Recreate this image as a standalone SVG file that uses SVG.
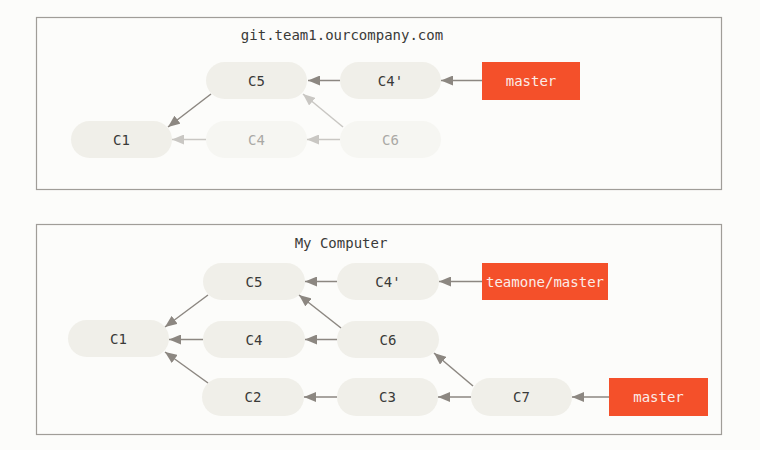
<svg xmlns="http://www.w3.org/2000/svg" width="760" height="450" viewBox="0 0 760 450">
<defs>
<marker id="ah" markerUnits="userSpaceOnUse" markerWidth="12" markerHeight="10" viewBox="0 0 12 10" refX="12" refY="5" orient="auto"><path d="M0,0 L12,5 L0,10 Z" fill="#8c8781"/></marker>
<marker id="ahf" markerUnits="userSpaceOnUse" markerWidth="12" markerHeight="10" viewBox="0 0 12 10" refX="12" refY="5" orient="auto"><path d="M0,0 L12,5 L0,10 Z" fill="#c9c7c3"/></marker>
</defs>
<style>
.box{fill:#fcfcfa;stroke:#a09d98;stroke-width:1.2}
.n rect{fill:#f0efe9}
.f rect{fill:#f6f6f2}
text{font-family:"DejaVu Sans Mono","Liberation Mono",monospace;font-size:14px;text-anchor:middle;dominant-baseline:central}
.n text{fill:#3a3a38}
.f text{fill:#aaa9a5}
.r rect{fill:#f4502a}
.r text{fill:#fbece8}
.t{fill:#3a3a38}
.c line{stroke:#8c8781;stroke-width:1.5;marker-end:url(#ah)}
.c line.fd{stroke:#c9c7c3;marker-end:url(#ahf)}
</style>
<rect width="760" height="450" fill="#fcfcfa"/>
<rect class="box" x="36.5" y="17.5" width="685" height="172"/>
<rect class="box" x="36.5" y="224.5" width="685" height="210"/>
<text class="t" x="342" y="35">git.team1.ourcompany.com</text>
<text class="t" x="341" y="243">My Computer</text>

<g id="top-C1" class="n"><rect x="71" y="121" width="101" height="37" rx="18.5"/><text x="121.5" y="139.5">C1</text></g>
<g id="top-C5" class="n"><rect x="206" y="62" width="101" height="37" rx="18.5"/><text x="256.5" y="80.5">C5</text></g>
<g id="top-C4p" class="n"><rect x="340" y="62" width="101" height="37" rx="18.5"/><text x="390.5" y="80.5">C4'</text></g>
<g id="top-C4" class="f"><rect x="206" y="121" width="101" height="37" rx="18.5"/><text x="256.5" y="139.5">C4</text></g>
<g id="top-C6" class="f"><rect x="340" y="121" width="101" height="37" rx="18.5"/><text x="390.5" y="139.5">C6</text></g>
<g id="top-master" class="r"><rect x="482" y="62" width="98" height="38"/><text x="531" y="81">master</text></g>

<g id="bot-C1" class="n"><rect x="68" y="320" width="101" height="37" rx="18.5"/><text x="118.5" y="338.5">C1</text></g>
<g id="bot-C5" class="n"><rect x="203" y="263" width="102" height="37" rx="18.5"/><text x="254" y="281.5">C5</text></g>
<g id="bot-C4p" class="n"><rect x="337" y="263" width="102" height="37" rx="18.5"/><text x="388" y="281.5">C4'</text></g>
<g id="bot-C4" class="n"><rect x="203" y="321" width="102" height="37" rx="18.5"/><text x="254" y="339.5">C4</text></g>
<g id="bot-C6" class="n"><rect x="337" y="321" width="102" height="37" rx="18.5"/><text x="388" y="339.5">C6</text></g>
<g id="bot-C2" class="n"><rect x="202" y="378" width="102" height="38" rx="19"/><text x="253" y="397">C2</text></g>
<g id="bot-C3" class="n"><rect x="337" y="378" width="101" height="38" rx="19"/><text x="387.5" y="397">C3</text></g>
<g id="bot-C7" class="n"><rect x="471" y="378" width="101" height="38" rx="19"/><text x="521.5" y="397">C7</text></g>
<g id="bot-teamone" class="r"><rect x="482" y="263" width="126" height="37"/><text x="545" y="281.5">teamone/master</text></g>
<g id="bot-master" class="r"><rect x="609" y="378" width="99" height="38"/><text x="658.5" y="397">master</text></g>

<g id="connectors" class="c">
<line x1="211" y1="94" x2="168" y2="127"/>
<line x1="340" y1="80.5" x2="308" y2="80.5"/>
<line x1="482" y1="80.5" x2="441" y2="80.5"/>
<line class="fd" x1="206" y1="139.5" x2="172" y2="139.5"/>
<line class="fd" x1="340" y1="139.5" x2="307" y2="139.5"/>
<line class="fd" x1="343" y1="127" x2="303" y2="94"/>

<line x1="208" y1="295" x2="165" y2="327"/>
<line x1="203" y1="339.5" x2="169" y2="339.5"/>
<line x1="208" y1="383" x2="165" y2="352"/>
<line x1="337" y1="281.5" x2="305" y2="281.5"/>
<line x1="341" y1="328" x2="299" y2="295"/>
<line x1="337" y1="339.5" x2="305" y2="339.5"/>
<line x1="337" y1="397" x2="304" y2="397"/>
<line x1="482" y1="281.5" x2="439" y2="281.5"/>
<line x1="473" y1="386" x2="434" y2="353"/>
<line x1="471" y1="397" x2="438" y2="397"/>
<line x1="609" y1="397" x2="572" y2="397"/>
</g>
</svg>
